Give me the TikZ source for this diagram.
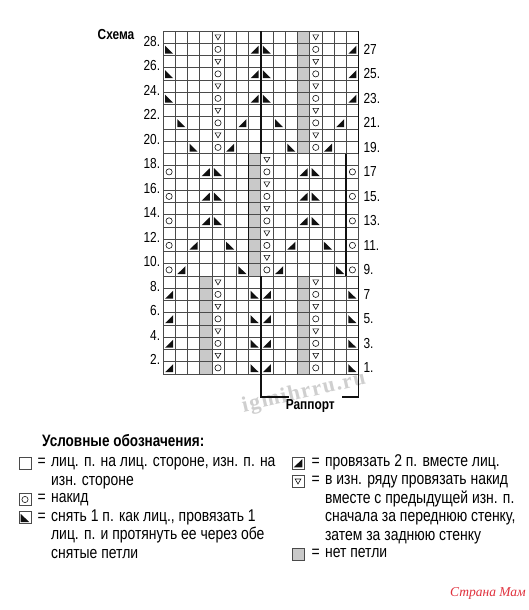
\documentclass[tikz,border=0pt]{standalone}
\usepackage{fontspec}
\setmainfont{Liberation Sans}[FakeStretch=0.82]
\newfontfamily\wmarkfont{Liberation Serif}[LetterSpace=6]
\newfontfamily\logofont{Liberation Serif}
\usepackage{xcolor}
\definecolor{cLine}{HTML}{4A4A4A}
\definecolor{cShade}{HTML}{C9C9C9}
\definecolor{cInk}{HTML}{111111}
\definecolor{cWater}{HTML}{CFCFCF}
\definecolor{cLogo}{HTML}{E0303C}
\usepackage{tikz}
\usetikzlibrary{positioning}
\tikzset{
  chart-grid/.style={draw=cLine,line width=0.6pt},
  chart-frame/.style={draw=cLine,line width=0.9pt},
  chart-rapport/.style={draw=cInk,line width=1.8pt},
  sym-yo/.style={draw=cInk,line width=0.6pt},
  sym-tbl/.style={draw=cInk,line width=0.6pt},
  sym-dec/.style={fill=cInk},
  row-num/.style={font=\fontsize{14.5}{15}\selectfont,inner sep=0pt},
  title-lbl/.style={font=\bfseries\fontsize{14.5}{15}\selectfont,inner sep=0pt},
  legend-head/.style={font=\bfseries\fontsize{16.5}{18}\selectfont,inner sep=0pt,anchor=west},
  legend-text/.style={font=\fontsize{17}{18}\selectfont,inner sep=0pt,
    text height=12.5pt,text depth=5.75pt,anchor=west},
  legend-box/.style={draw=cLine,line width=0.7pt,minimum size=12pt,inner sep=0pt},
  watermark/.style={font=\wmarkfont\bfseries\fontsize{22}{22}\selectfont,text=cWater,inner sep=0pt},
  logo/.style={font=\logofont\itshape\fontsize{13.5}{14}\selectfont,text=cLogo,inner sep=0pt},
}

\begin{document}
\begin{tikzpicture}[x=1pt,y=-1pt]
  \useasboundingbox (0,0) rectangle (529,610);
  \fill[white] (0,0) rectangle (529,610);
  \node[watermark,rotate=13] (wMark) at (304,393) {igmihrru.ru};
  \node[title-lbl] (schemeTtl) at (116,35) {Схема};

  % chart: 16 stitches x 28 rows
  \begin{scope}[shift={(163,374)},x=12.22pt,y=12.25pt]
    \fill[cShade] (11,18) rectangle (12,28);
    \fill[cShade] (7,8) rectangle (8,18);
    \fill[cShade] (3,0) rectangle (4,8) (11,0) rectangle (12,8);
    \foreach \i in {1,...,15}
      \draw[chart-grid] (\i,0) -- (\i,28);
    \foreach \j in {1,...,27}
      \draw[chart-grid] (0,\j) -- (16,\j);
    \draw[chart-frame] (0,0) rectangle (16,28);
    % rapport borders
    \draw[chart-rapport] (8,28) -- (8,18) (16,28) -- (16,18);
    \draw[chart-rapport] (7,18) -- (7,8) (15,18) -- (15,8);
    \draw[chart-rapport] (8,8) |- (10.3,-1.88);
    \draw[chart-rapport] (16,8) |- (14.65,-1.88);
    \node[title-lbl] (rapLbl) at (12.05,-2.6) {Раппорт};
    % yarn overs
    \foreach \r in {19,21,...,27} \foreach \c in {5,13}
      \draw[sym-yo] (\c-0.5,\r-0.5) circle[radius=3.1pt];
    \foreach \r in {9,11,...,17} \foreach \c in {1,9,16}
      \draw[sym-yo] (\c-0.5,\r-0.5) circle[radius=3.1pt];
    \foreach \r in {1,3,5,7} \foreach \c in {5,13}
      \draw[sym-yo] (\c-0.5,\r-0.5) circle[radius=3.1pt];
    % yo purled together with previous stitch
    \foreach \r in {20,22,...,28} \foreach \c in {5,13}
      \draw[sym-tbl,shift={(\c-0.5,\r-0.5)}] (-2.9pt,2.3pt) -- (2.9pt,2.3pt) -- (0pt,-2.7pt) -- cycle;
    \foreach \r in {10,12,...,18}
      \draw[sym-tbl,shift={(8.5,\r-0.5)}] (-2.9pt,2.3pt) -- (2.9pt,2.3pt) -- (0pt,-2.7pt) -- cycle;
    \foreach \r in {2,4,6,8} \foreach \c in {5,13}
      \draw[sym-tbl,shift={(\c-0.5,\r-0.5)}] (-2.9pt,2.3pt) -- (2.9pt,2.3pt) -- (0pt,-2.7pt) -- cycle;
    % sl1-k1-psso
    \foreach \c/\r in {1/27,9/27,1/25,9/25,1/23,9/23,2/21,10/21,3/19,11/19,
        5/17,13/17,5/15,13/15,5/13,13/13,6/11,14/11,7/9,15/9,
        8/7,16/7,8/5,16/5,8/3,16/3,8/1,16/1}
      \fill[sym-dec,shift={(\c-1,\r-1)}] (0.17,0.8) -- (0.17,0.15) -- (0.83,0.15) -- cycle;
    % k2tog
    \foreach \c/\r in {8/27,16/27,8/25,16/25,8/23,16/23,7/21,15/21,6/19,14/19,
        4/17,12/17,4/15,12/15,4/13,12/13,3/11,11/11,2/9,10/9,
        1/7,9/7,1/5,9/5,1/3,9/3,1/1,9/1}
      \fill[sym-dec,shift={(\c-1,\r-1)}] (0.83,0.8) -- (0.83,0.15) -- (0.17,0.15) -- cycle;
    % row numbers
    \foreach \r in {2,4,...,28}
      \node[row-num,anchor=east] (lblL\r) at (-0.22,\r-0.85) {\r.};
    \foreach \r/\t in {27/27,25/25.,23/23.,21/21.,19/19.,17/17,15/15.,13/13.,
        11/11.,9/9.,7/7,5/5.,3/3.,1/1.}
      \node[row-num,anchor=west] (lblR\r) at (16.4,\r-0.5) {\t};
  \end{scope}

  % legend
  \node[legend-head] (keyHead) at (42,441) {Условные обозначения:};

  \node[legend-box] (keyKnit) at (25,463) {};
  \node[legend-text,right=6pt of keyKnit] (keyKnitEq) {=};
  \node[legend-text,right=5pt of keyKnitEq] (keyKnitA) {лиц. п. на лиц. стороне, изн. п. на};
  \node[legend-text,below=0pt of keyKnitA.south west,anchor=north west] (keyKnitB) {изн. стороне};

  \node[legend-box] (keyYo) at (25,499.5) {};
  \draw[sym-yo] (keyYo.center) circle[radius=3.1pt];
  \node[legend-text,right=6pt of keyYo] (keyYoEq) {=};
  \node[legend-text,right=5pt of keyYoEq] (keyYoA) {накид};

  \node[legend-box] (keySkp) at (25,517.75) {};
  \fill[sym-dec] ([shift={(2pt,-2.5pt)}]keySkp.north west) -- ([shift={(2pt,2pt)}]keySkp.south west)
    -- ([shift={(-2pt,2pt)}]keySkp.south east) -- cycle;
  \node[legend-text,right=6pt of keySkp] (keySkpEq) {=};
  \node[legend-text,right=5pt of keySkpEq] (keySkpA) {снять 1 п. как лиц., провязать 1};
  \node[legend-text,below=0pt of keySkpA.south west,anchor=north west] (keySkpB) {лиц. п. и протянуть ее через обе};
  \node[legend-text,below=0pt of keySkpB.south west,anchor=north west] (keySkpC) {снятые петли};

  \node[legend-box] (keyTog) at (298,463) {};
  \fill[sym-dec] ([shift={(-2pt,-2.5pt)}]keyTog.north east) -- ([shift={(-2pt,2pt)}]keyTog.south east)
    -- ([shift={(2pt,2pt)}]keyTog.south west) -- cycle;
  \node[legend-text,right=7pt of keyTog] (keyTogEq) {=};
  \node[legend-text,right=5pt of keyTogEq] (keyTogA) {провязать 2 п. вместе лиц.};

  \node[legend-box] (keyTbl) at (298,481.25) {};
  \draw[sym-tbl,shift={(keyTbl.center)}] (-2.9pt,2.3pt) -- (2.9pt,2.3pt) -- (0pt,-2.7pt) -- cycle;
  \node[legend-text,right=7pt of keyTbl] (keyTblEq) {=};
  \node[legend-text,right=5pt of keyTblEq] (keyTblA) {в изн. ряду провязать накид};
  \node[legend-text,below=0pt of keyTblA.south west,anchor=north west] (keyTblB) {вместе с предыдущей изн. п.};
  \node[legend-text,below=0pt of keyTblB.south west,anchor=north west] (keyTblC) {сначала за переднюю стенку,};
  \node[legend-text,below=0pt of keyTblC.south west,anchor=north west] (keyTblD) {затем за заднюю стенку};

  \node[legend-box,fill=cShade] (keyNone) at (298,554.25) {};
  \node[legend-text,right=7pt of keyNone] (keyNoneEq) {=};
  \node[legend-text,right=5pt of keyNoneEq] (keyNoneA) {нет петли};

  \node[logo,anchor=east] (logoTxt) at (526,593) {Страна Мам};
\end{tikzpicture}
\end{document}
